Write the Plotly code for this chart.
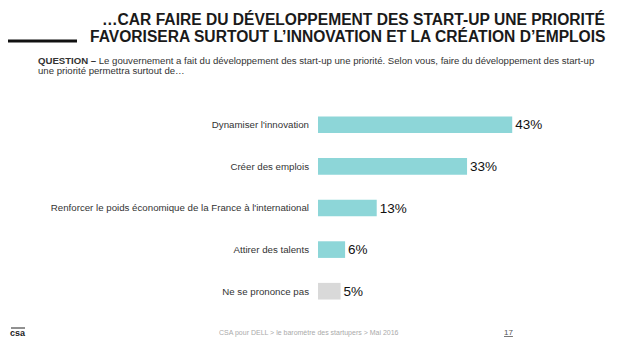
import plotly.graph_objects as go

categories = ["Dynamiser l'innovation", "Créer des emplois",
              "Renforcer le poids économique de la France à l'international",
              "Attirer des talents", "Ne se prononce pas"]
values = [43, 33, 13, 6, 5]
colors = ["#8dd6d8", "#8dd6d8", "#8dd6d8", "#8dd6d8", "#d9d9d9"]
labels = [f"{v}%" for v in values]

title_lines = ["…CAR FAIRE DU DÉVELOPPEMENT DES START-UP UNE PRIORITÉ",
               "FAVORISERA SURTOUT L’INNOVATION ET LA CRÉATION D’EMPLOIS"]
question_lines = ["<b>QUESTION –</b> Le gouvernement a fait du développement des start-up une priorité. Selon vous, faire du développement des start-up",
                  "une priorité permettra surtout de…"]
footer = "CSA pour DELL > le baromètre des startupers > Mai 2016"
page = "17"

L, R, T, B = 318, 31, 104, 37
W, H = 620, 349

fig = go.Figure(go.Bar(
    x=values, y=categories, orientation="h",
    marker=dict(color=colors, line=dict(width=0)),
    text=labels, textposition="outside", cliponaxis=False,
    textfont=dict(size=13.5, color="#111", family="Liberation Sans, Arial"),
))

fig.update_layout(
    width=W, height=H,
    margin=dict(l=L, r=R, t=T, b=B),
    paper_bgcolor="white", plot_bgcolor="white",
    bargap=0.6, showlegend=False,
    font=dict(family="Liberation Sans, Arial", color="#333"),
    xaxis=dict(range=[0, 60], visible=False, fixedrange=True),
    yaxis=dict(autorange="reversed", showgrid=False, zeroline=False, showline=False,
               ticks="", ticklabelstandoff=8, tickfont=dict(size=9.7, color="#333")),
)

def px(xp):
    return (xp - L) / (W - L - R)

def py(yp):
    return 1 - (yp - T) / (H - T - B)

for i, line in enumerate(title_lines):
    fig.add_annotation(
        xref="paper", yref="paper", x=px(607), y=py(19 + 17 * i), xanchor="right", yanchor="middle",
        text=f"<b>{line}</b>", showarrow=False, align="right",
        font=dict(size=15.6, color="#1a1a1a", family="Liberation Sans, Arial"),
    )
fig.add_shape(type="line", xref="paper", yref="paper", x0=px(8), x1=px(77), y0=py(41), y1=py(41),
              line=dict(color="#111", width=3))
for i, line in enumerate(question_lines):
    fig.add_annotation(
        xref="paper", yref="paper", x=px(36), y=py(60 + 11 * i), xanchor="left", yanchor="middle",
        text=line, showarrow=False, align="left",
        font=dict(size=9.6, color="#333", family="Liberation Sans, Arial"),
    )
fig.add_annotation(
    xref="paper", yref="paper", x=px(309), y=py(333), xanchor="center", yanchor="middle",
    text=footer, showarrow=False,
    font=dict(size=7, color="#aaaaaa", family="Liberation Sans, Arial"),
)
fig.add_annotation(
    xref="paper", yref="paper", x=px(508), y=py(332), xanchor="center", yanchor="middle",
    text=f"<u>{page}</u>", showarrow=False,
    font=dict(size=8, color="#555", family="Liberation Sans, Arial"),
)
fig.add_annotation(
    xref="paper", yref="paper", x=px(18), y=py(333), xanchor="center", yanchor="middle",
    text="<b>csa</b>", showarrow=False,
    font=dict(size=9, color="#222", family="Liberation Sans, Arial"),
)
fig.add_shape(type="line", xref="paper", yref="paper", x0=px(11), x1=px(25), y0=py(328), y1=py(328),
              line=dict(color="#222", width=1))

fig.write_html("out.html")
